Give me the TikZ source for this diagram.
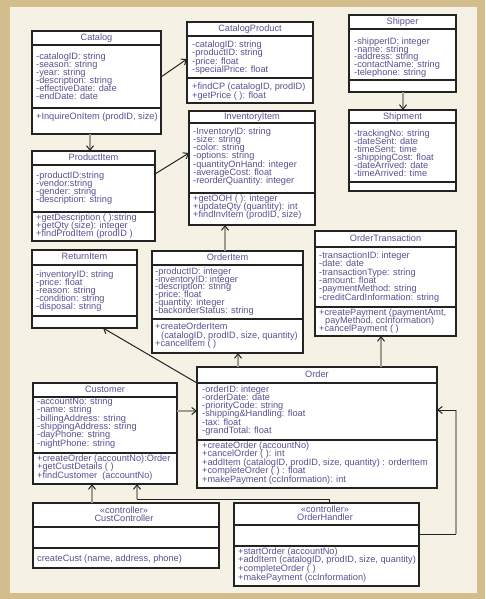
\documentclass[tikz,border=0pt]{standalone}
\usepackage{fontspec}
\setmainfont{Liberation Sans}
\usetikzlibrary{arrows.meta}
\definecolor{framecol}{RGB}{212,189,141}
\definecolor{creamcol}{RGB}{245,241,229}
\definecolor{boxline}{RGB}{35,35,35}
\definecolor{txtcol}{RGB}{90,80,145}
\definecolor{conngray}{RGB}{158,156,146}
\tikzset{
  cbox/.style={draw=boxline, line width=1.8pt, fill=white, inner sep=0pt, outer sep=0pt, anchor=north west},
  divthin/.style={draw=boxline, line width=1.1pt},
  divthick/.style={draw=boxline, line width=1.8pt},
  ltxt/.style={font=\fontsize{9.2}{9}\selectfont, text=txtcol, inner sep=0pt, text height=6.4pt, text depth=1.8pt, anchor=west},
  ttxt/.style={ltxt, anchor=center},
  tipv/.style={-{Straight Barb[length=4.5pt,width=7pt,line width=1pt,color=boxline]}},
  grayconn/.style={draw=conngray, line width=2.2pt},
  thinconn/.style={draw=boxline, line width=1pt},
}
\newcommand\umlbox[5]{\node[cbox, minimum width={#4-#2}, minimum height={#5-#3}] (#1) at (#2,#3) {};}
\newcommand\hdiv[4]{\draw[#1] (#2,#4) -- (#3,#4);}
\newcommand\umllines[5]{\foreach \t [count=\i] in {#5} {\node[ltxt] (#1-\i) at (#2,{#3+(\i-1)*#4}) {\t};}}
\begin{document}
\begin{tikzpicture}[x=1pt,y=-1pt]
\useasboundingbox (0,0) rectangle (485,599);
\fill[framecol] (0,0) rectangle (485,599);
\fill[creamcol] (10,7) rectangle (477,593);

% ---------- Catalog
\umlbox{catalog}{32}{31}{161}{134}
\hdiv{divthin}{32}{161}{45}
\hdiv{divthick}{32}{161}{108}
\node[ttxt] (catalog-t) at (96.5,38) {Catalog};
\umllines{catalog-a}{36}{57}{8}{{-catalogID: string},{-season: string},{-year: string},{-description: string},{-effectiveDate: date},{-endDate: date}}
\umllines{catalog-m}{36}{117}{8}{{+InquireOnItem (prodID, size)}}

% ---------- CatalogProduct
\umlbox{catalogproduct}{187}{22}{313}{103}
\hdiv{divthin}{187}{313}{36}
\hdiv{divthin}{187}{313}{78}
\node[ttxt] (catalogproduct-t) at (250,29) {CatalogProduct};
\umllines{catalogproduct-a}{192}{45}{8.4}{{-catalogID: string},{-productID: string},{-price: float},{-specialPrice: float}}
\umllines{catalogproduct-m}{192}{87}{9}{{+findCP (catalogID, prodID)},{+getPrice ( ): float}}

% ---------- Shipper
\umlbox{shipper}{349}{15}{456}{92}
\hdiv{divthin}{349}{456}{29}
\hdiv{divthin}{349}{456}{80}
\node[ttxt] (shipper-t) at (402.5,22) {Shipper};
\umllines{shipper-a}{354}{42}{7.8}{{-shipperID: integer},{-name: string},{-address: string},{-contactName: string},{-telephone: string}}

% ---------- Shipment
\umlbox{shipment}{349}{110}{456}{191}
\hdiv{divthin}{349}{456}{123}
\hdiv{divthin}{349}{456}{182}
\node[ttxt] (shipment-t) at (402.5,117) {Shipment};
\umllines{shipment-a}{354}{134}{8}{{-trackingNo: string},{-dateSent: date},{-timeSent: time},{-shippingCost: float},{-dateArrived: date},{-timeArrived: time}}

% ---------- ProductItem
\umlbox{productitem}{32}{151}{155}{241}
\hdiv{divthin}{32}{155}{165}
\hdiv{divthin}{32}{155}{212}
\node[ttxt] (productitem-t) at (93.5,158) {ProductItem};
\umllines{productitem-a}{36}{176}{8}{{-productID:string},{-vendor:string},{-gender: string},{-description: string}}
\umllines{productitem-m}{36}{218}{8}{{+getDescription ( ):string},{+getQty (size): integer},{+findProdItem (prodID )}}

% ---------- InventoryItem
\umlbox{inventoryitem}{189}{111}{315}{225}
\hdiv{divthin}{189}{315}{123}
\hdiv{divthin}{189}{315}{193}
\node[ttxt] (inventoryitem-t) at (252,117) {InventoryItem};
\umllines{inventoryitem-a}{193}{132}{8.2}{{-InventoryID: string},{-size: string},{-color: string},{-options: string},{-quantityOnHand: integer},{-averageCost: float},{-reorderQuantity: integer}}
\umllines{inventoryitem-m}{193}{199}{8.3}{{+getOOH ( ): integer},{+updateQty (quantity): int},{+findInvItem (prodID, size)}}

% ---------- ReturnItem
\umlbox{returnitem}{32}{250}{137}{328}
\hdiv{divthin}{32}{137}{265}
\hdiv{divthin}{32}{137}{316}
\node[ttxt] (returnitem-t) at (84.5,257) {ReturnItem};
\umllines{returnitem-a}{36}{275}{8}{{-inventoryID: string},{-price: float},{-reason: string},{-condition: string},{-disposal: string}}

% ---------- OrderItem
\umlbox{orderitem}{152}{251}{303}{353}
\hdiv{divthin}{152}{303}{265}
\hdiv{divthick}{152}{303}{319}
\node[ttxt] (orderitem-t) at (227.5,258) {OrderItem};
\umllines{orderitem-a}{155}{272}{7.8}{{-productID: integer},{-inventoryID: integer},{-description: string},{-price: float},{-quantity: integer},{-backorderStatus: string}}
\node[ltxt] (orderitem-m1) at (155,327) {+createOrderItem};
\node[ltxt] (orderitem-m2) at (161,336) {(catalogID, prodID, size, quantity)};
\node[ltxt] (orderitem-m3) at (155,344) {+cancelItem ( )};

% ---------- OrderTransaction
\umlbox{ordertransaction}{315}{231}{456}{336}
\hdiv{divthin}{315}{456}{247}
\hdiv{divthick}{315}{456}{307}
\node[ttxt] (ordertransaction-t) at (385.5,239) {OrderTransaction};
\umllines{ordertransaction-a}{319}{256}{8.4}{{-transactionID: integer},{-date: date},{-transactionType: string},{-amount: float},{-paymentMethod: string},{-creditCardInformation: string}}
\node[ltxt] (ordertransaction-m1) at (319,313) {+createPayment (paymentAmt,};
\node[ltxt] (ordertransaction-m2) at (325,321) {payMethod, ccInformation)};
\node[ltxt] (ordertransaction-m3) at (319,329) {+cancelPayment ( )};

% ---------- Customer
\umlbox{customer}{33}{383}{177}{484}
\hdiv{divthin}{33}{177}{397}
\hdiv{divthin}{33}{177}{453}
\node[ttxt] (customer-t) at (105,390) {Customer};
\umllines{customer-a}{37}{402}{8.4}{{-accountNo: string},{-name: string},{-billingAddress: string},{-shippingAddress: string},{-dayPhone: string},{-nightPhone: string}}
\umllines{customer-m}{37}{459}{8.5}{{+createOrder (accountNo):Order},{+getCustDetails ( )},{+findCustomer\ \ (accountNo)}}

% ---------- Order
\umlbox{order}{197}{367}{437}{488}
\hdiv{divthin}{197}{437}{383}
\hdiv{divthick}{197}{437}{440}
\node[ttxt] (order-t) at (317,375) {Order};
\umllines{order-a}{202}{390}{8.2}{{-orderID: integer},{-orderDate: date},{-priorityCode: string},{-shipping\&Handling: float},{-tax: float},{-grandTotal: float}}
\umllines{order-m}{202}{446}{8.5}{{+createOrder (accountNo)},{+cancelOrder ( ): int},{+addItem (catalogID, prodID, size, quantity) : orderItem},{+completeOrder ( ) : float},{+makePayment (ccInformation): int}}

% ---------- CustController
\umlbox{custcontroller}{33}{503}{219}{568}
\hdiv{divthin}{33}{219}{527}
\hdiv{divthin}{33}{219}{548}
\node[ttxt] (custcontroller-s) at (124,511) {«controller»};
\node[ttxt] (custcontroller-t) at (124,519) {CustController};
\node[ltxt] (custcontroller-m1) at (37,559) {createCust (name, address, phone)};

% ---------- OrderHandler
\umlbox{orderhandler}{234}{503}{419}{586}
\hdiv{divthin}{234}{419}{525}
\hdiv{divthin}{234}{419}{546}
\node[ttxt] (orderhandler-s) at (325,510) {«controller»};
\node[ttxt] (orderhandler-t) at (325,518) {OrderHandler};
\umllines{orderhandler-m}{238}{552}{8.6}{{+startOrder (accountNo)},{+addItem (catalogID, prodID, size, quantity)},{+completeOrder ( )},{+makePayment (ccInformation)}}

% ---------- connectors
\draw[thinconn, tipv] (catalog.east |- 0,77) -- (catalogproduct.west |- 0,59);
\draw[grayconn, tipv] (catalog.south -| 90,0) -- (productitem.north -| 90,0);
\draw[thinconn, tipv] (productitem.east |- 0,174) -- (inventoryitem.west |- 0,153);
\draw[grayconn, tipv] (shipper.south -| 403,0) -- (shipment.north -| 403,0);
\draw[grayconn, tipv] (orderitem.north -| 225,0) -- (inventoryitem.south -| 225,0);
\draw[grayconn, tipv] (order.north -| 238,0) -- (orderitem.south -| 238,0);
\draw[grayconn, tipv] (order.north -| 381,0) -- (ordertransaction.south -| 381,0);
\draw[thinconn, tipv] (order.west |- 0,383) -- (returnitem.south -| 103,0);
\draw[grayconn, tipv] (customer.east |- 0,411) -- (order.west |- 0,411);
\draw[grayconn, tipv] (custcontroller.north -| 92,0) -- (customer.south -| 92,0);
\coordinate (ohc1) at (329,499);
\coordinate (ohc2) at (137,499);
\draw[thinconn] (orderhandler.north -| ohc1) -- (ohc1) -- (ohc2);
\draw[grayconn, tipv] (ohc2) -- (customer.south -| ohc2);
\coordinate (ohr1) at (456,534);
\coordinate (ohr2) at (456,410);
\draw[thinconn] (orderhandler.east |- ohr1) -- (ohr1);
\draw[grayconn] (ohr1) -- (ohr2);
\draw[thinconn, tipv] (ohr2) -- (order.east |- ohr2);
\end{tikzpicture}
\end{document}
